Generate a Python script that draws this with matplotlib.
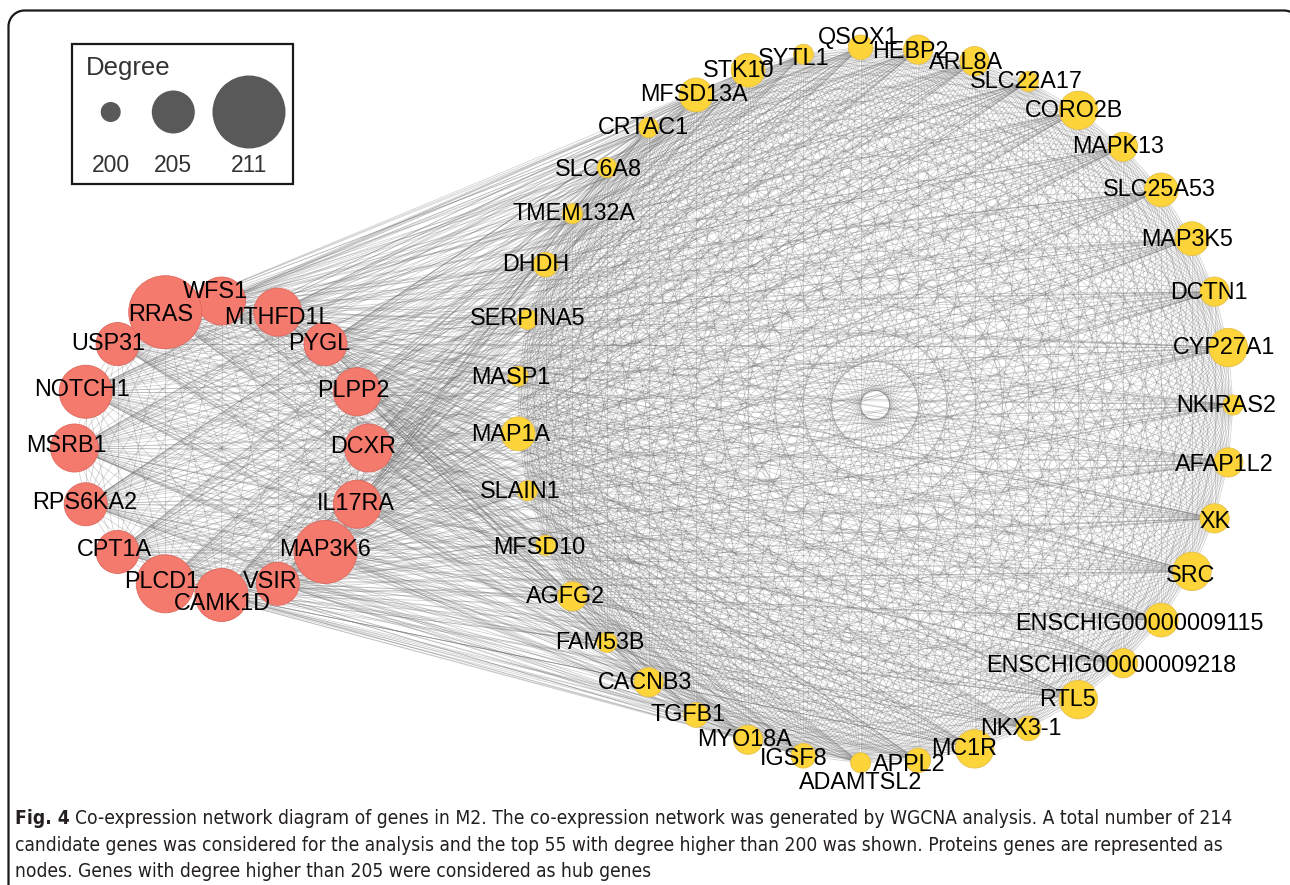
import itertools
import numpy as np
import matplotlib
matplotlib.use("Agg")
import matplotlib.pyplot as plt
from matplotlib.patches import Circle, Rectangle, PathPatch
from matplotlib.path import Path
from matplotlib.collections import LineCollection
from matplotlib import font_manager
from matplotlib.font_manager import FontProperties

# ---------------- data ----------------
hub_genes = ["DCXR", "PLPP2", "PYGL", "MTHFD1L", "WFS1", "RRAS", "USP31", "NOTCH1",
             "MSRB1", "RPS6KA2", "CPT1A", "PLCD1", "CAMK1D", "VSIR", "MAP3K6", "IL17RA"]
hub_degree = [206, 206, 205, 206, 206, 211, 205, 207,
              206, 205, 205, 208, 207, 205, 209, 206]

other_genes = ["NKIRAS2", "CYP27A1", "DCTN1", "MAP3K5", "SLC25A53", "MAPK13", "CORO2B",
               "SLC22A17", "ARL8A", "HEBP2", "QSOX1", "SYTL1", "STK10", "MFSD13A",
               "CRTAC1", "SLC6A8", "TMEM132A", "DHDH", "SERPINA5", "MASP1", "MAP1A",
               "SLAIN1", "MFSD10", "AGFG2", "FAM53B", "CACNB3", "TGFB1", "MYO18A",
               "IGSF8", "ADAMTSL2", "APPL2", "MC1R", "NKX3-1", "RTL5",
               "ENSCHIG00000009218", "ENSCHIG00000009115", "SRC", "XK", "AFAP1L2"]
other_degree = [200, 204, 202, 203, 203, 202, 204,
                200, 202, 202, 201, 200, 203, 203,
                200, 200, 200, 201, 200, 200, 203,
                200, 200, 202, 200, 202, 201, 202,
                201, 200, 201, 204, 201, 204,
                202, 203, 204, 202, 202]

legend_degrees = [200, 205, 211]

caption_lines = [
    "Co-expression network diagram of genes in M2. The co-expression network was generated by WGCNA analysis. A total number of 214",
    "candidate genes was considered for the analysis and the top 55 with degree higher than 200 was shown. Proteins genes are represented as",
    "nodes. Genes with degree higher than 205 were considered as hub genes",
]

# ---------------- styling / layout ----------------
W, H = 1290, 885
HUB_COLOR = "#F47A6E"
HUB_EDGE = "#E0685C"
OTHER_COLOR = "#FDD53A"
OTHER_EDGE = "#E6C04A"
LABEL_FONT = ["Liberation Sans", "DejaVu Sans"]
LABEL_SIZE = 16.8


def diameter(deg):
    # node diameter (px) follows the legend scale
    return np.interp(deg, [200, 205, 211], [20, 43, 73])


def ring(n, cx, cy, r):
    ang = np.deg2rad(np.arange(n) * 360.0 / n)
    return np.column_stack([cx + r * np.cos(ang), cy - r * np.sin(ang)])


hub_xy = ring(len(hub_genes), 221.5, 448.0, 147.0)
other_xy = ring(len(other_genes), 875.0, 405.0, 358.0)

# label offsets (px) from node centre
label_offset = {
    "RRAS": (-5, 0), "WFS1": (-6, -11), "MTHFD1L": (0, 3), "PYGL": (-6, -2),
    "PLPP2": (-4, -3), "DCXR": (-5, -3), "IL17RA": (-1, -3), "MAP3K6": (0, -4),
    "VSIR": (-7, -4), "CAMK1D": (1, 7), "PLCD1": (-4, -4), "CPT1A": (-3, -4),
    "RPS6KA2": (-1, -4), "MSRB1": (-8, -4), "NOTCH1": (-4, -4), "USP31": (-9, -2),
    "QSOX1": (-2, -12), "SYTL1": (-10, 2), "STK10": (-9, -2), "MFSD13A": (-2, -2),
    "CRTAC1": (-5, -2), "SLC6A8": (-9, 0), "TMEM132A": (2, -2), "DHDH": (-10, -2),
    "HEBP2": (-8, 0), "ARL8A": (-9, 0), "SLC22A17": (-2, -2), "CORO2B": (-4, -2),
    "MAPK13": (-5, -2), "SLC25A53": (-2, -2), "MAP3K5": (-5, -1), "DCTN1": (-6, -1),
    "CYP27A1": (-4, -2), "NKIRAS2": (-7, -1), "AFAP1L2": (-4, 0), "XK": (0, 1),
    "SRC": (-1, 2), "ENSCHIG00000009115": (-22, 2), "ENSCHIG00000009218": (-12, 0),
    "RTL5": (-11, -2), "NKX3-1": (-8, -2), "MC1R": (-10, -2), "APPL2": (-9, 2),
    "ADAMTSL2": (0, 18), "IGSF8": (-10, 1), "MYO18A": (-4, -2), "TGFB1": (-8, -2),
    "CACNB3": (-4, -2), "FAM53B": (-7, -2), "AGFG2": (-7, -2), "MFSD10": (-6, 0),
    "SLAIN1": (-7, -1), "MAP1A": (-7, -1), "MASP1": (-7, -1), "SERPINA5": (0, -3),
}

fig = plt.figure(figsize=(W / 100, H / 100), dpi=100)
ax = fig.add_axes([0, 0, 1, 1])
ax.set_xlim(0, W)
ax.set_ylim(H, 0)
ax.axis("off")


# rounded frame: left and top sides, with the right side beyond the canvas
def frame_path(x0, y0, x1, y1, r):
    k = 0.5523 * r
    verts = [(x0, y1), (x0, y0 + r),
             (x0, y0 + r - k), (x0 + r - k, y0), (x0 + r, y0),
             (x1 - r, y0),
             (x1 - r + k, y0), (x1, y0 + r - k), (x1, y0 + r),
             (x1, y1)]
    codes = [Path.MOVETO, Path.LINETO,
             Path.CURVE4, Path.CURVE4, Path.CURVE4,
             Path.LINETO,
             Path.CURVE4, Path.CURVE4, Path.CURVE4,
             Path.LINETO]
    return Path(verts, codes)


ax.add_patch(PathPatch(frame_path(8.5, 10.5, 1300, 920, 16), fill=False,
                       ec="#1a1a1a", lw=1.6, zorder=0))

# ---------------- edges: every pair of shown genes ----------------
genes = hub_genes + other_genes
xy = np.vstack([hub_xy, other_xy])
segs = [(xy[i], xy[j]) for i, j in itertools.combinations(range(len(genes)), 2)]
ax.add_collection(LineCollection(segs, colors=(0.42, 0.42, 0.42, 0.34),
                                 linewidths=0.5, zorder=1))

# ---------------- nodes ----------------
for (x, y), d in zip(hub_xy, hub_degree):
    ax.add_patch(Circle((x, y), diameter(d) / 2, fc=HUB_COLOR, ec=HUB_EDGE, lw=0.6, zorder=2))
for (x, y), d in zip(other_xy, other_degree):
    ax.add_patch(Circle((x, y), diameter(d) / 2, fc=OTHER_COLOR, ec=OTHER_EDGE, lw=0.6, zorder=2))

# ---------------- labels ----------------
cap_half = 0.716 * LABEL_SIZE * 100 / 72 / 2
for name, (x, y) in zip(genes, xy):
    dx, dy = label_offset.get(name, (0, 0))
    ax.text(x + dx, y + dy + cap_half, name, ha="center", va="baseline",
            fontsize=LABEL_SIZE, family=LABEL_FONT, color="black", zorder=3)

# ---------------- legend ----------------
ax.add_patch(Rectangle((72, 44), 221, 140, fill=True, fc="white", ec="#1a1a1a", lw=1.6, zorder=4))
ax.text(86, 75, "Degree", fontsize=18.5, family=LABEL_FONT, color="#333333",
        ha="left", va="baseline", zorder=5)
for cx, deg in zip([110.7, 173.3, 249.0], legend_degrees):
    ax.add_patch(Circle((cx, 112), diameter(deg) / 2, fc="#595959", ec="none", zorder=5))
    ax.text(cx, 171.5, str(deg), fontsize=16.5, family=LABEL_FONT, color="#333333",
            ha="center", va="baseline", zorder=5)


# ---------------- caption ----------------
def pick_caption_fonts():
    narrow = []
    for f in font_manager.fontManager.ttflist:
        nm = f.name.lower()
        if ("narrow" in nm or "condensed" in nm or
                str(f.stretch) in ("condensed", "semi-condensed", "extra-condensed")):
            if f.style == "normal":
                narrow.append(f)
    regular = [f for f in narrow if f.weight in (400, "normal", "regular", "book")]
    for reg in regular:
        bold = [f for f in narrow if f.name == reg.name and f.weight in (700, "bold")]
        if bold:
            return FontProperties(fname=reg.fname), FontProperties(fname=bold[0].fname)
    if regular:
        return FontProperties(fname=regular[0].fname), FontProperties(fname=regular[0].fname, weight="bold")
    return (FontProperties(family="Liberation Sans"),
            FontProperties(family="Liberation Sans", weight="bold"))


cap_reg, cap_bold = pick_caption_fonts()
CAP_COLOR = "#231F20"
renderer = fig.canvas.get_renderer()


def width_px(s, fp, size):
    p = fp.copy()
    p.set_size(size)
    t = ax.text(0, 0, s, fontproperties=p)
    w = t.get_window_extent(renderer).width
    t.remove()
    return w


ref = 10.0
w_total = (width_px("Fig. 4", cap_bold, ref) + 0.28 * ref * 100 / 72 +
           width_px(caption_lines[0], cap_reg, ref))
cap_size = ref * (1236 - 15) / w_total
fp_reg = cap_reg.copy()
fp_reg.set_size(cap_size)
fp_bold = cap_bold.copy()
fp_bold.set_size(cap_size)
bold_w = width_px("Fig. 4", cap_bold, cap_size)
gap = 0.28 * cap_size * 100 / 72
baselines = [824, 851, 877]
ax.text(15, baselines[0], "Fig. 4", fontproperties=fp_bold,
        color=CAP_COLOR, ha="left", va="baseline")
ax.text(15 + bold_w + gap, baselines[0], caption_lines[0], fontproperties=fp_reg,
        color=CAP_COLOR, ha="left", va="baseline")
for line, yb in zip(caption_lines[1:], baselines[1:]):
    ax.text(15, yb, line, fontproperties=fp_reg, color=CAP_COLOR,
            ha="left", va="baseline")

fig.savefig("out.png", dpi=100)
